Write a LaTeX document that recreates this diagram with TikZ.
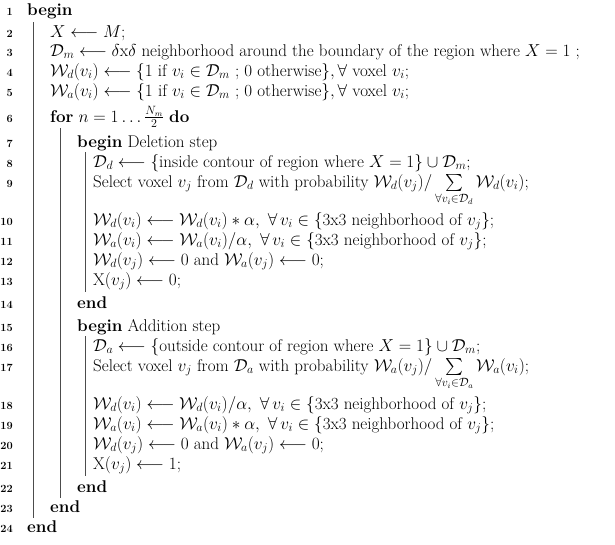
\documentclass[tikz,border=0pt]{standalone}
\usepackage{amsmath,amssymb}
\begin{document}
\begin{tikzpicture}[x=1pt,y=-1pt,
  ln/.style={anchor=base east,inner sep=0,font=\fontsize{11}{13}\selectfont\bfseries},
  tx/.style={anchor=base west,inner sep=0,font=\fontsize{17}{19}\selectfont},
  bar/.style={draw=black!70,line width=0.9pt}]
\useasboundingbox (0,0) rectangle (615,544);
\foreach \n/\y in {1/15,2/37,3/56,4/76,5/96,6/122,7/147,8/167,9/187,10/225,11/245,12/265,13/285,14/308,15/331,16/351,17/371,18/409,19/429,20/449,21/469,22/492,23/512,24/532}
  \node[ln] (n\n) at (13,\y) {\n};
\node[tx] (l1) at (27,15) {\textbf{begin}};
\node[tx] (l2) at (50,37) {$X \longleftarrow M$;};
\node[tx] (l3) at (50,56) {$\mathcal{D}_m \longleftarrow \delta\mathrm{x}\delta$ neighborhood around the boundary of the region where $X=1$ ;};
\node[tx] (l4) at (50,76) {$\mathcal{W}_d(v_i) \longleftarrow \{1$ if $v_i\in\mathcal{D}_m$ ; 0 otherwise$\}, \forall$ voxel $v_i$;};
\node[tx] (l5) at (50,96) {$\mathcal{W}_a(v_i) \longleftarrow \{1$ if $v_i\in\mathcal{D}_m$ ; 0 otherwise$\}, \forall$ voxel $v_i$;};
\node[tx] (l6) at (50,122) {\textbf{for} $n=1\ldots\frac{N_m}{2}$ \textbf{do}};
\node[tx] (l7) at (77,147) {\textbf{begin} Deletion step};
\node[tx] (l8) at (93,167) {$\mathcal{D}_d \longleftarrow \{$inside contour of region where $X=1\}\cup\mathcal{D}_m$;};
\node[tx] (l9) at (93,187) {Select voxel $v_j$ from $\mathcal{D}_d$ with probability $\mathcal{W}_d(v_j)/\sum\limits_{\forall v_i\in\mathcal{D}_d}\mathcal{W}_d(v_i)$;};
\node[tx] (l10) at (93,225) {$\mathcal{W}_d(v_i) \longleftarrow \mathcal{W}_d(v_i)*\alpha,\ \forall\, v_i\in\{$3x3 neighborhood of $v_j\}$;};
\node[tx] (l11) at (93,245) {$\mathcal{W}_a(v_i) \longleftarrow \mathcal{W}_a(v_i)/\alpha,\ \forall\, v_i\in\{$3x3 neighborhood of $v_j\}$;};
\node[tx] (l12) at (93,265) {$\mathcal{W}_d(v_j) \longleftarrow 0$ and $\mathcal{W}_a(v_j) \longleftarrow 0$;};
\node[tx] (l13) at (93,285) {X$(v_j) \longleftarrow 0$;};
\node[tx] (l14) at (77,308) {\textbf{end}};
\node[tx] (l15) at (77,331) {\textbf{begin} Addition step};
\node[tx] (l16) at (93,351) {$\mathcal{D}_a \longleftarrow \{$outside contour of region where $X=1\}\cup\mathcal{D}_m$;};
\node[tx] (l17) at (93,371) {Select voxel $v_j$ from $\mathcal{D}_a$ with probability $\mathcal{W}_a(v_j)/\sum\limits_{\forall v_i\in\mathcal{D}_a}\mathcal{W}_a(v_i)$;};
\node[tx] (l18) at (93,409) {$\mathcal{W}_d(v_i) \longleftarrow \mathcal{W}_d(v_i)/\alpha,\ \forall\, v_i\in\{$3x3 neighborhood of $v_j\}$;};
\node[tx] (l19) at (93,429) {$\mathcal{W}_a(v_i) \longleftarrow \mathcal{W}_a(v_i)*\alpha,\ \forall\, v_i\in\{$3x3 neighborhood of $v_j\}$;};
\node[tx] (l20) at (93,449) {$\mathcal{W}_d(v_j) \longleftarrow 0$ and $\mathcal{W}_a(v_j) \longleftarrow 0$;};
\node[tx] (l21) at (93,469) {X$(v_j) \longleftarrow 1$;};
\node[tx] (l22) at (77,492) {\textbf{end}};
\node[tx] (l23) at (50,512) {\textbf{end}};
\node[tx] (l24) at (27,532) {\textbf{end}};
\draw[bar] (33,22) -- (33,518);
\draw[bar] (60,128) -- (60,498);
\draw[bar] (85,152) -- (85,292);
\draw[bar] (85,336) -- (85,476);
\end{tikzpicture}
\end{document}
